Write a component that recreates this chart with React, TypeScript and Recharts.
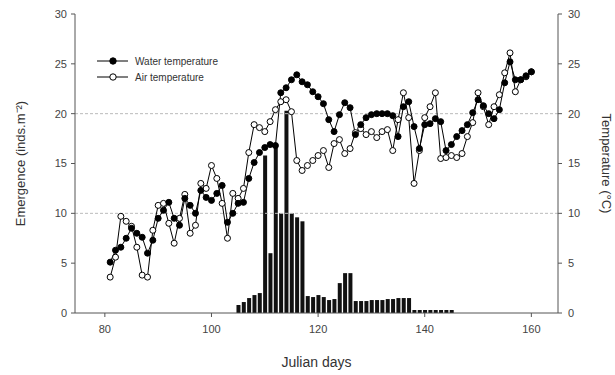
import React from 'react';
import { ComposedChart, Bar, Line, XAxis, YAxis, ReferenceLine } from 'recharts';

// Julian days with temperature readings
const days = [
  81, 82, 83, 84, 85, 86, 87, 88, 89, 90,
  91, 92, 93, 94, 95, 96, 97, 98, 99, 100,
  101, 102, 103, 104, 105, 106, 107, 108, 109, 110,
  111, 112, 113, 114, 115, 116, 117, 118, 119, 120,
  121, 122, 123, 124, 125, 126, 127, 128, 129, 130,
  131, 132, 133, 134, 135, 136, 137, 138, 139, 140,
  141, 142, 143, 144, 145, 146, 147, 148, 149, 150,
  151, 152, 153, 154, 155, 156, 157, 158, 159, 160,
];

const waterTemp = [
  5.1, 6.3, 6.6, 7.5, 8.5, 8.0, 7.6, 6.0, 7.3, 9.5,
  10.3, 11.1, 9.5, 8.8, 11.5, 10.8, 10.0, 12.3, 11.6, 11.3,
  12.0, 12.8, 9.1, 10.0, 11.0, 11.1, 13.5, 15.1, 16.1, 16.6,
  16.9, 16.8, 22.1, 22.6, 23.4, 23.9, 23.2, 22.9, 22.2, 21.7,
  21.0, 19.4, 18.2, 19.9, 21.1, 20.6, 17.9, 18.9, 19.6, 19.9,
  20.0, 20.0, 20.0, 19.8, 17.7, 20.7, 21.2, 18.7, 16.5, 18.9,
  19.0, 19.5, 19.2, 16.3, 16.9, 17.7, 18.3, 18.9, 20.1, 21.4,
  20.8, 20.0, 19.5, 20.4, 23.1, 25.2, 23.4, 23.4, 23.8, 24.2,
];

const airTemp = [
  3.6, 5.6, 9.7, 9.2, 8.7, 6.6, 3.8, 3.6, 8.3, 10.8,
  11.0, 9.0, 7.0, 9.5, 11.9, 8.0, 8.8, 13.0, 12.5, 14.8,
  13.5, 11.0, 7.5, 12.0, 11.5, 12.5, 16.1, 18.9, 18.6, 18.2,
  19.2, 20.4, 21.2, 21.4, 20.2, 15.3, 14.3, 14.8, 15.3, 15.8,
  16.3, 14.6, 17.0, 17.4, 16.0, 16.5, 18.1, 18.5, 17.9, 18.2,
  17.6, 18.2, 18.4, 16.3, 19.4, 22.1, 19.6, 13.0, 16.3, 19.6,
  20.7, 22.1, 15.5, 15.6, 15.8, 15.6, 16.0, 17.7, 19.1, 22.1,
  20.7, 18.9, 20.7, 21.9, 24.1, 26.1, 22.2, 23.4, 23.7, 24.2,
];

// Emergence bars (inds.m-2), days 105 to 145
const emergenceDays = [
  105, 106, 107, 108, 109, 110, 111, 112, 113, 114,
  115, 116, 117, 118, 119, 120, 121, 122, 123, 124,
  125, 126, 127, 128, 129, 130, 131, 132, 133, 134,
  135, 136, 137, 138, 139, 140, 141, 142, 143, 144, 145,
];
const emergence = [
  0.8, 1.1, 1.5, 1.8, 2.0, 15.8, 6.0, 16.8, 10.0, 20.3,
  10.0, 9.6, 9.2, 1.7, 1.6, 1.8, 1.6, 1.3, 1.4, 3.0,
  4.0, 4.0, 1.2, 1.2, 1.2, 1.3, 1.3, 1.3, 1.4, 1.4,
  1.5, 1.5, 1.5, 0.3, 0.3, 0.3, 0.3, 0.3, 0.3, 0.3, 0.3,
];

const xTicks = [80, 100, 120, 140, 160];
const yTicks = [0, 5, 10, 15, 20, 25, 30];

const data = days.map((day, i) => {
  const k = emergenceDays.indexOf(day);
  return {
    day,
    water: waterTemp[i],
    air: airTemp[i],
    emergence: k >= 0 ? emergence[k] : null,
  };
});

const FONT = '"Liberation Sans", Arial, sans-serif';
const tickStyle = { fontSize: 11, fill: '#444', fontFamily: FONT };
const titleStyle = { fontSize: 13, fontFamily: FONT, fill: '#333' };

const LegendRow = ({ filled, text }: { filled: boolean; text: string }) => (
  <div style={{ display: 'flex', alignItems: 'center', height: 16 }}>
    <svg width={34} height={16}>
      <line x1={0} y1={8} x2={31} y2={8} stroke="#000" strokeWidth={1} />
      <circle cx={16} cy={8} r={3.2} fill={filled ? '#000' : '#fff'} stroke="#000" />
    </svg>
    <span style={{ marginLeft: 4 }}>{text}</span>
  </div>
);

export default function App() {
  return (
    <div style={{ position: 'absolute', left: 0, top: 0, width: 615, height: 375, background: '#fff' }}>
      <ComposedChart
        width={615}
        height={375}
        data={data}
        margin={{ top: 14, right: 7, bottom: 30, left: 15 }}
      >
        <XAxis
          dataKey="day"
          type="number"
          domain={[74.4, 165]}
          ticks={xTicks}
          allowDataOverflow
          stroke="#555"
          tickSize={4}
          tickMargin={8}
          height={32}
          tick={tickStyle}
          label={{ value: 'Julian days', position: 'insideBottom', offset: -22, fill: '#333', style: { ...titleStyle, fontSize: 14 } }}
        />
        <YAxis
          yAxisId="left"
          domain={[0, 30]}
          ticks={yTicks}
          width={60}
          stroke="#555"
          tickSize={4}
          tickMargin={4}
          tick={tickStyle}
          label={{ value: 'Emergence (inds.m⁻²)', angle: -90, position: 'insideLeft', offset: 5, fill: '#333', style: { ...titleStyle, textAnchor: 'middle' } }}
        />
        <YAxis
          yAxisId="right"
          orientation="right"
          domain={[0, 30]}
          ticks={yTicks}
          width={50}
          stroke="#555"
          tickSize={4}
          tickMargin={6}
          tick={tickStyle}
          label={{ value: 'Temperature (°C)', angle: 90, position: 'insideRight', offset: 1, fill: '#333', style: { ...titleStyle, textAnchor: 'middle' } }}
        />
        <ReferenceLine yAxisId="left" y={10} stroke="#bbb" strokeDasharray="3 2" />
        <ReferenceLine yAxisId="left" y={20} stroke="#bbb" strokeDasharray="3 2" />
        <Bar
          yAxisId="left"
          dataKey="emergence"
          name="Emergence"
          barSize={4}
          fill="#111"
          isAnimationActive={false}
        />
        <Line
          yAxisId="right"
          dataKey="air"
          name="Air temperature"
          stroke="#000"
          strokeWidth={1}
          dot={{ r: 3, fill: '#fff', stroke: '#000', strokeWidth: 1 }}
          isAnimationActive={false}
        />
        <Line
          yAxisId="right"
          dataKey="water"
          name="Water temperature"
          stroke="#000"
          strokeWidth={1}
          dot={{ r: 3, fill: '#000', stroke: '#000', strokeWidth: 1 }}
          isAnimationActive={false}
        />
      </ComposedChart>
      <div style={{ position: 'absolute', left: 97, top: 53, fontFamily: FONT, fontSize: 10, color: '#333' }}>
        <LegendRow filled text="Water temperature" />
        <LegendRow filled={false} text="Air temperature" />
      </div>
    </div>
  );
}
